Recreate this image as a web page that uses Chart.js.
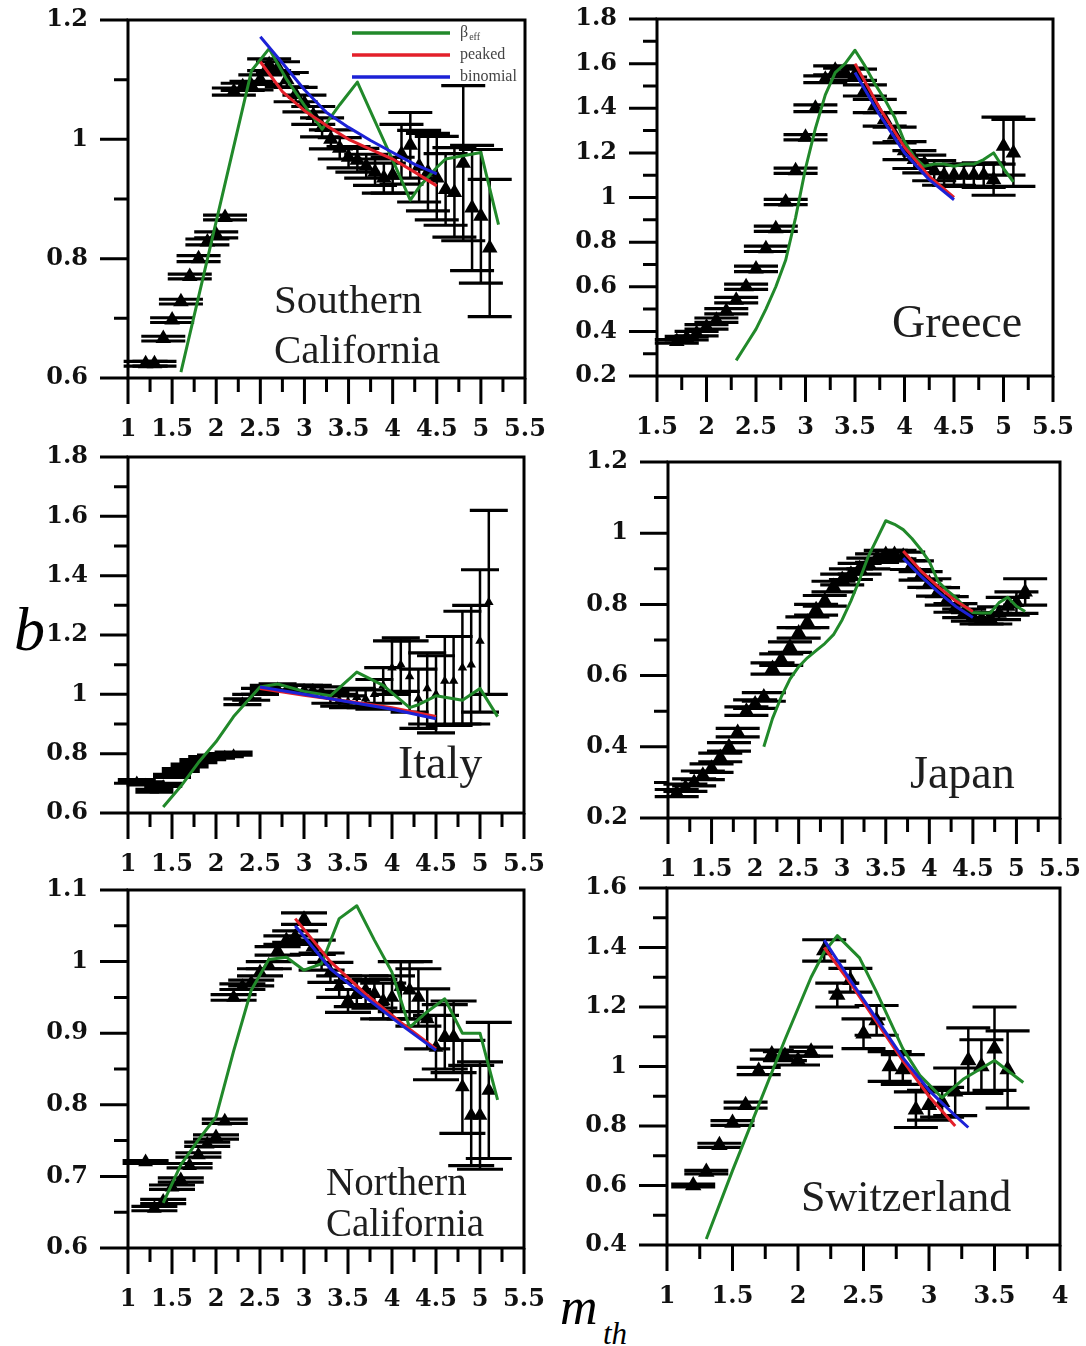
<!DOCTYPE html>
<html>
<head>
<meta charset="utf-8">
<title>b-value versus magnitude threshold</title>
<script src="https://cdn.jsdelivr.net/npm/chart.js@4.4.1/dist/chart.umd.min.js"></script>
<style>
  html, body { margin: 0; padding: 0; background: #fff; }
  #page { position: relative; width: 1086px; height: 1346px; overflow: hidden; background: #fff; }
  #page canvas { position: absolute; }
  .axlabel { position: absolute; font-family: 'Liberation Serif', serif; font-style: italic; color: #000; line-height: 1; white-space: nowrap; }
</style>
</head>
<body>
<div id="page">
  <span class="axlabel" style="left:14px;top:598px;font-size:62px">b</span>
  <span class="axlabel" style="left:560px;top:1281px;font-size:52px">m</span>
  <span class="axlabel" style="left:603px;top:1318px;font-size:31px">th</span>
</div>
<script>
// tick labels
const xLabelsA = [1, 1.5, 2, 2.5, 3, 3.5, 4, 4.5, 5, 5.5];
const xLabelsGreece = [1.5, 2, 2.5, 3, 3.5, 4, 4.5, 5, 5.5];
const xLabelsSwiss = [1, 1.5, 2, 2.5, 3, 3.5, 4];
const seriesNames = ['β', 'peaked', 'binomial'];

// Southern California
const socalYLabels = [0.6, 0.8, 1, 1.2];
const socalM = [1.2,1.3,1.4,1.5,1.6,1.7,1.8,1.9,2.0,2.1,2.2,2.3,2.4,2.5,2.6,2.7,2.8,2.9,3.0,3.1,3.2,3.3,3.4,3.5,3.6,3.7,3.8,3.9,4.0,4.1,4.2,4.3,4.4,4.5,4.6,4.7,4.8,4.9,5.0,5.1];
const socalB = [0.624,0.624,0.666,0.697,0.728,0.77,0.80,0.828,0.84,0.869,1.08,1.088,1.09,1.10,1.125,1.12,1.10,1.075,1.06,1.04,1.02,1.0,0.985,0.97,0.965,0.955,0.945,0.935,0.94,0.975,0.99,0.955,0.945,0.935,0.916,0.911,0.96,0.885,0.871,0.818];
const socalErr = [0.004,0.004,0.004,0.004,0.004,0.004,0.005,0.005,0.005,0.004,0.006,0.006,0.007,0.008,0.01,0.01,0.012,0.012,0.014,0.015,0.016,0.016,0.018,0.018,0.02,0.02,0.022,0.025,0.03,0.05,0.055,0.06,0.065,0.07,0.06,0.075,0.13,0.105,0.112,0.115];
const socalEffM = [1.6,2.4,2.6,2.8,3.0,3.2,3.4,3.6,3.8,4.0,4.2,4.3,4.5,4.6,5.0,5.2];
const socalEffB = [0.61,1.115,1.152,1.1,1.057,1.017,1.058,1.096,1.03,0.965,0.898,0.92,0.953,0.967,0.978,0.857];
const socalFitM = [2.5,2.75,3.0,3.25,3.5,3.75,4.0,4.25,4.5];
const socalPeakB = [1.13,1.08,1.048,1.023,1.0,0.983,0.967,0.945,0.922];
const socalBinB = [1.172,1.128,1.083,1.045,1.02,0.998,0.978,0.958,0.942];

// Greece
const greeceYLabels = [0.2, 0.4, 0.6, 0.8, 1, 1.2, 1.4, 1.6, 1.8];
const greeceM = [1.7,1.8,1.9,2.0,2.1,2.2,2.3,2.4,2.5,2.6,2.7,2.8,2.9,3.0,3.1,3.2,3.3,3.4,3.5,3.6,3.7,3.8,3.9,4.0,4.1,4.2,4.3,4.4,4.5,4.6,4.7,4.8,4.9,5.0,5.1];
const greeceB = [0.355,0.37,0.39,0.42,0.45,0.49,0.54,0.60,0.68,0.77,0.86,0.98,1.12,1.27,1.40,1.53,1.57,1.56,1.55,1.48,1.41,1.35,1.28,1.21,1.17,1.15,1.12,1.10,1.10,1.10,1.10,1.10,1.08,1.23,1.20];
const greeceErr = [0.008,0.008,0.01,0.01,0.01,0.012,0.012,0.012,0.012,0.012,0.012,0.012,0.012,0.012,0.015,0.015,0.02,0.02,0.025,0.025,0.03,0.03,0.035,0.04,0.04,0.04,0.045,0.045,0.045,0.05,0.05,0.055,0.07,0.13,0.15];
const greeceEffM = [2.3,2.4,2.5,2.6,2.7,2.8,2.9,3.0,3.1,3.2,3.3,3.4,3.5,3.6,3.7,3.8,3.9,4.0,4.1,4.2,4.3,4.4,4.5,4.6,4.7,4.8,4.9,5.0,5.1];
const greeceEffB = [0.27,0.34,0.41,0.5,0.6,0.72,0.91,1.13,1.31,1.46,1.56,1.60,1.66,1.59,1.51,1.44,1.36,1.25,1.18,1.14,1.15,1.15,1.14,1.15,1.15,1.17,1.2,1.13,1.07];
const greeceFitM = [3.5,3.75,4.0,4.25,4.5];
const greecePeakB = [1.60,1.40,1.225,1.095,1.0];
const greeceBinB = [1.56,1.37,1.2,1.08,0.99];

// Italy
const italyYLabels = [0.6, 0.8, 1, 1.2, 1.4, 1.6, 1.8];
const italyM = [1.1,1.2,1.3,1.4,1.5,1.6,1.7,1.8,1.9,2.0,2.1,2.2,2.3,2.4,2.5,2.6,2.7,2.8,2.9,3.0,3.1,3.2,3.3,3.4,3.5,3.6,3.7,3.8,3.9,4.0,4.1,4.2,4.3,4.4,4.5,4.6,4.7,4.8,4.9,5.0,5.1];
const italyB = [0.708,0.70,0.675,0.695,0.725,0.745,0.76,0.775,0.785,0.79,0.795,0.80,0.975,0.99,1.01,1.02,1.025,1.02,1.02,1.02,1.02,1.015,0.99,0.98,0.975,0.99,0.985,1.0,1.03,1.09,1.10,1.06,0.985,1.02,1.0,1.045,1.045,1.09,1.10,1.18,1.31];
const italyErr = [0.005,0.005,0.005,0.005,0.005,0.005,0.005,0.005,0.005,0.005,0.005,0.005,0.01,0.01,0.01,0.01,0.01,0.01,0.01,0.01,0.01,0.01,0.02,0.02,0.02,0.03,0.03,0.05,0.06,0.09,0.09,0.12,0.1,0.12,0.13,0.15,0.15,0.19,0.2,0.24,0.31];
const italyEffM = [1.4,1.6,1.8,2.0,2.2,2.5,2.7,3.0,3.3,3.6,3.9,4.2,4.3,4.5,4.6,4.8,5.0,5.2];
const italyEffB = [0.62,0.69,0.77,0.84,0.925,1.025,1.035,1.01,0.995,1.075,1.03,0.955,0.965,0.995,0.99,0.98,1.02,0.925];
const italyFitM = [2.5,3.0,3.5,4.0,4.5];
const italyPeakB = [1.02,0.997,0.977,0.955,0.925];
const italyBinB = [1.025,1.0,0.975,0.95,0.918];

// Japan
const japanYLabels = [0.2, 0.4, 0.6, 0.8, 1, 1.2];
const japanM = [1.1,1.2,1.3,1.4,1.5,1.6,1.7,1.8,1.9,2.0,2.1,2.2,2.3,2.4,2.5,2.6,2.7,2.8,2.9,3.0,3.1,3.2,3.3,3.4,3.5,3.6,3.7,3.8,3.9,4.0,4.1,4.2,4.3,4.4,4.5,4.6,4.7,4.8,4.9,5.0,5.1];
const japanB = [0.27,0.285,0.30,0.32,0.34,0.37,0.40,0.44,0.50,0.52,0.54,0.62,0.645,0.68,0.72,0.75,0.785,0.81,0.85,0.87,0.885,0.90,0.915,0.93,0.94,0.94,0.935,0.91,0.88,0.86,0.835,0.81,0.79,0.775,0.765,0.76,0.76,0.775,0.795,0.805,0.835];
const japanErr = [0.01,0.01,0.01,0.012,0.012,0.012,0.012,0.012,0.012,0.012,0.012,0.016,0.016,0.015,0.015,0.015,0.015,0.015,0.015,0.015,0.015,0.015,0.015,0.012,0.012,0.012,0.012,0.012,0.012,0.012,0.012,0.012,0.012,0.012,0.012,0.015,0.015,0.018,0.025,0.03,0.037];
const japanEffM = [2.1,2.2,2.3,2.4,2.5,2.6,2.7,2.8,2.9,3.0,3.1,3.2,3.3,3.4,3.5,3.6,3.7,3.8,3.9,4.0,4.1,4.2,4.3,4.4,4.5,4.6,4.7,4.8,4.9,5.0,5.1];
const japanEffB = [0.40,0.48,0.54,0.59,0.625,0.65,0.67,0.69,0.715,0.757,0.81,0.87,0.935,0.985,1.035,1.025,1.01,0.985,0.955,0.92,0.865,0.84,0.82,0.795,0.777,0.776,0.776,0.805,0.82,0.795,0.78];
const japanFitM = [3.7,3.9,4.1,4.3,4.5];
const japanPeakB = [0.95,0.895,0.85,0.81,0.78];
const japanBinB = [0.93,0.88,0.835,0.795,0.763];

// Northern California
const norcalYLabels = [0.6, 0.7, 0.8, 0.9, 1, 1.1];
const norcalM = [1.2,1.3,1.4,1.5,1.6,1.7,1.8,1.9,2.0,2.1,2.2,2.3,2.4,2.5,2.6,2.7,2.8,2.9,3.0,3.1,3.2,3.3,3.4,3.5,3.6,3.7,3.8,3.9,4.0,4.1,4.2,4.3,4.4,4.5,4.6,4.7,4.8,4.9,5.0,5.1];
const norcalB = [0.72,0.655,0.665,0.685,0.695,0.715,0.73,0.745,0.755,0.777,0.95,0.965,0.97,0.985,0.995,1.015,1.03,1.035,1.06,1.02,1.0,0.985,0.965,0.945,0.955,0.96,0.955,0.945,0.95,0.965,0.96,0.95,0.92,0.88,0.895,0.895,0.825,0.785,0.785,0.82];
const norcalErr = [0.002,0.003,0.003,0.003,0.003,0.003,0.003,0.003,0.003,0.003,0.004,0.004,0.004,0.005,0.005,0.006,0.006,0.008,0.008,0.01,0.012,0.014,0.015,0.016,0.018,0.02,0.02,0.025,0.03,0.035,0.04,0.04,0.042,0.045,0.045,0.05,0.065,0.07,0.075,0.095];
const norcalEffM = [1.4,1.6,1.8,2.0,2.2,2.4,2.6,2.8,3.0,3.2,3.4,3.6,3.8,4.0,4.2,4.4,4.6,4.8,5.0,5.2];
const norcalEffB = [0.663,0.716,0.751,0.783,0.875,0.96,1.003,1.006,0.988,0.997,1.06,1.078,1.03,0.985,0.908,0.93,0.948,0.9,0.9,0.807];
const norcalFitM = [2.9,3.3,3.7,4.1,4.5];
const norcalPeakB = [1.06,1.0,0.955,0.915,0.878];
const norcalBinB = [1.05,0.99,0.95,0.912,0.876];

// Switzerland
const swissYLabels = [0.4, 0.6, 0.8, 1, 1.2, 1.4, 1.6];
const swissM = [1.2,1.3,1.4,1.5,1.6,1.7,1.8,1.9,2.0,2.1,2.2,2.3,2.4,2.5,2.6,2.7,2.8,2.9,3.0,3.1,3.2,3.3,3.4,3.5,3.6];
const swissB = [0.60,0.645,0.735,0.81,0.87,0.985,1.04,1.035,1.02,1.05,1.39,1.24,1.29,1.11,1.155,1.0,0.99,0.855,0.87,0.88,0.915,1.02,1.0,1.06,0.99];
const swissErr = [0.005,0.006,0.007,0.008,0.01,0.012,0.015,0.015,0.015,0.015,0.036,0.04,0.04,0.05,0.05,0.05,0.05,0.06,0.05,0.05,0.08,0.11,0.09,0.14,0.13];
const swissEffM = [1.3,1.5,1.7,1.9,2.1,2.2,2.3,2.47,2.6,2.8,2.93,3.1,3.26,3.5,3.72];
const swissEffB = [0.42,0.65,0.87,1.09,1.30,1.385,1.44,1.365,1.25,1.06,0.97,0.895,0.957,1.02,0.946];
const swissPeakM = [2.2,2.4,2.6,2.8,3.0,3.2];
const swissPeakB = [1.40,1.28,1.15,1.02,0.9,0.80];
const swissBinM = [2.2,2.4,2.6,2.8,3.0,3.2,3.3];
const swissBinB = [1.425,1.29,1.16,1.03,0.92,0.835,0.795];

const GREEN = '#21892a', RED = '#e3202a', BLUE = '#1c22d6';
const tickFont = { family: 'DejaVu Serif', weight: 'bold', size: 24 };

const panels = [
  { id: 'socal', box: [128, 20, 525, 378], xr: [1, 5.5], yr: [0.6, 1.2], yStep: 0.1, xLabels: xLabelsA, yLabels: socalYLabels,
    m: socalM, b: socalB, e: socalErr, effM: socalEffM, effB: socalEffB, peakM: socalFitM, peakB: socalPeakB, binM: socalFitM, binB: socalBinB,
    tri: 9, cap: 22, nameSize: 41, names: [['Southern', 146, 293], ['California', 146, 343]], legend: true },
  { id: 'greece', box: [657, 19, 1053, 376], xr: [1.5, 5.5], yr: [0.2, 1.8], yStep: 0.1, xLabels: xLabelsGreece, yLabels: greeceYLabels,
    m: greeceM, b: greeceB, e: greeceErr, effM: greeceEffM, effB: greeceEffB, peakM: greeceFitM, peakB: greecePeakB, binM: greeceFitM, binB: greeceBinB,
    tri: 9, cap: 22, nameSize: 46, names: [['Greece', 235, 318]] },
  { id: 'italy', box: [128, 457, 524, 813], xr: [1, 5.5], yr: [0.6, 1.8], yStep: 0.1, xLabels: xLabelsA, yLabels: italyYLabels,
    m: italyM, b: italyB, e: italyErr, effM: italyEffM, effB: italyEffB, peakM: italyFitM, peakB: italyPeakB, binM: italyFitM, binB: italyBinB,
    tri: 5.5, cap: 19, nameSize: 46, names: [['Italy', 270, 321]] },
  { id: 'japan', box: [668, 462, 1060, 818], xr: [1, 5.5], yr: [0.2, 1.2], yStep: 0.1, xLabels: xLabelsA, yLabels: japanYLabels,
    m: japanM, b: japanB, e: japanErr, effM: japanEffM, effB: japanEffB, peakM: japanFitM, peakB: japanPeakB, binM: japanFitM, binB: japanBinB,
    tri: 9, cap: 22, nameSize: 46, names: [['Japan', 242, 326]] },
  { id: 'norcal', box: [128, 890, 524, 1248], xr: [1, 5.5], yr: [0.6, 1.1], yStep: 0.05, xLabels: xLabelsA, yLabels: norcalYLabels,
    m: norcalM, b: norcalB, e: norcalErr, effM: norcalEffM, effB: norcalEffB, peakM: norcalFitM, peakB: norcalPeakB, binM: norcalFitM, binB: norcalBinB,
    tri: 8.5, cap: 23, nameSize: 39, names: [['Northern', 198, 305], ['California', 198, 346]] },
  { id: 'swiss', box: [667, 888, 1060, 1245], xr: [1, 4], yr: [0.4, 1.6], yStep: 0.1, xLabels: xLabelsSwiss, yLabels: swissYLabels,
    m: swissM, b: swissB, e: swissErr, effM: swissEffM, effB: swissEffB, peakM: swissPeakM, peakB: swissPeakB, binM: swissBinM, binB: swissBinB,
    tri: 9.5, cap: 22, nameSize: 44, names: [['Switzerland', 134, 323]] }
];

const pts = (xs, ys) => xs.map((v, i) => ({ x: v, y: ys[i] }));
const fmt = v => String(Math.round(v * 100) / 100);
const labelIf = (v, list) => list.some(t => Math.abs(t - v) < 1e-6) ? fmt(v) : '';

function drawLegend(ctx, a) {
  const cols = [GREEN, RED, BLUE];
  seriesNames.forEach((txt, i) => {
    const yy = a.top + 13 + i * 22;
    ctx.strokeStyle = cols[i];
    ctx.lineWidth = 3.5;
    ctx.beginPath();
    ctx.moveTo(a.left + 224, yy);
    ctx.lineTo(a.left + 322, yy);
    ctx.stroke();
    ctx.fillStyle = '#444';
    ctx.textBaseline = 'middle';
    ctx.font = '16px "Liberation Serif"';
    ctx.fillText(txt, a.left + 332, yy);
    if (i === 0) {
      const w = ctx.measureText(txt).width;
      ctx.font = '10px "Liberation Serif"';
      ctx.fillText('eff', a.left + 333 + w, yy + 4);
    }
  });
}

function panelPlugin(p) {
  return {
    id: 'panel_' + p.id,
    beforeDatasetsDraw(chart) {
      const { ctx, scales: { x, y } } = chart;
      ctx.save();
      ctx.strokeStyle = '#000';
      p.m.forEach((m, i) => {
        const px = x.getPixelForValue(m);
        const top = y.getPixelForValue(p.b[i] + p.e[i]);
        const bot = y.getPixelForValue(p.b[i] - p.e[i]);
        ctx.lineWidth = 2.5;
        ctx.beginPath();
        ctx.moveTo(px, top);
        ctx.lineTo(px, bot);
        ctx.stroke();
        ctx.lineWidth = 3.2;
        ctx.beginPath();
        ctx.moveTo(px - p.cap, top); ctx.lineTo(px + p.cap, top);
        ctx.moveTo(px - p.cap, bot); ctx.lineTo(px + p.cap, bot);
        ctx.stroke();
      });
      ctx.restore();
    },
    afterDraw(chart) {
      const { ctx, chartArea: a, scales: { x, y } } = chart;
      ctx.save();
      ctx.strokeStyle = '#000';
      ctx.lineWidth = 3;
      ctx.beginPath();
      x.ticks.forEach(t => {
        const px = x.getPixelForValue(t.value);
        ctx.moveTo(px, a.bottom);
        ctx.lineTo(px, a.bottom + (t.label ? 26 : 14));
      });
      y.ticks.forEach(t => {
        const py = y.getPixelForValue(t.value);
        ctx.moveTo(a.left - (t.label ? 28 : 14), py);
        ctx.lineTo(a.left, py);
      });
      ctx.stroke();
      ctx.strokeRect(a.left, a.top, a.right - a.left, a.bottom - a.top);

      ctx.fillStyle = '#1e1e1e';
      ctx.textBaseline = 'alphabetic';
      ctx.font = p.nameSize + 'px "Liberation Serif"';
      p.names.forEach(([txt, dx, dy]) => ctx.fillText(txt, a.left + dx, a.top + dy));
      if (p.legend) drawLegend(ctx, a);
      ctx.restore();
    }
  };
}

function build(p) {
  const [L, T, R, B] = p.box;
  const padL = 130, padT = 20, padR = 28, axisH = 75;
  const W = R - L + padL + padR, H = B - T + padT + axisH;
  const cv = document.createElement('canvas');
  cv.width = W;
  cv.height = H;
  cv.style.left = (L - padL) + 'px';
  cv.style.top = (T - padT) + 'px';
  cv.style.width = W + 'px';
  cv.style.height = H + 'px';
  document.getElementById('page').appendChild(cv);

  const line = (label, xs, ys, color) => ({
    label, data: pts(xs, ys), showLine: true, borderColor: color, borderWidth: 3,
    pointRadius: 0, tension: 0, borderJoinStyle: 'round', fill: false
  });

  new Chart(cv, {
    type: 'scatter',
    data: {
      datasets: [
        line('binomial', p.binM, p.binB, BLUE),
        line('peaked', p.peakM, p.peakB, RED),
        line('beta_eff', p.effM, p.effB, GREEN),
        { label: 'b', data: pts(p.m, p.b), pointStyle: 'triangle', pointRadius: p.tri,
          backgroundColor: '#000', borderWidth: 0, showLine: false }
      ]
    },
    options: {
      responsive: false,
      animation: false,
      devicePixelRatio: 1,
      layout: { padding: { left: 0, top: padT, right: padR, bottom: 0 } },
      plugins: { legend: { display: false }, tooltip: { enabled: false } },
      scales: {
        x: {
          type: 'linear', position: 'bottom', min: p.xr[0], max: p.xr[1],
          afterFit: s => { s.height = axisH; s.paddingLeft = 0; s.paddingRight = 0; },
          grid: { display: false, drawTicks: false }, border: { display: false },
          ticks: { stepSize: 0.25, autoSkip: false, maxRotation: 0, padding: 37, color: '#111', font: tickFont,
                   callback: v => labelIf(v, p.xLabels) }
        },
        y: {
          type: 'linear', position: 'left', min: p.yr[0], max: p.yr[1],
          afterFit: s => { s.width = padL; s.paddingTop = 0; s.paddingBottom = 0; },
          grid: { display: false, drawTicks: false }, border: { display: false },
          ticks: { stepSize: p.yStep, autoSkip: false, padding: 40, color: '#111', font: tickFont,
                   callback: v => labelIf(v, p.yLabels) }
        }
      }
    },
    plugins: [panelPlugin(p)]
  });
}

panels.forEach(build);
</script>
</body>
</html>
